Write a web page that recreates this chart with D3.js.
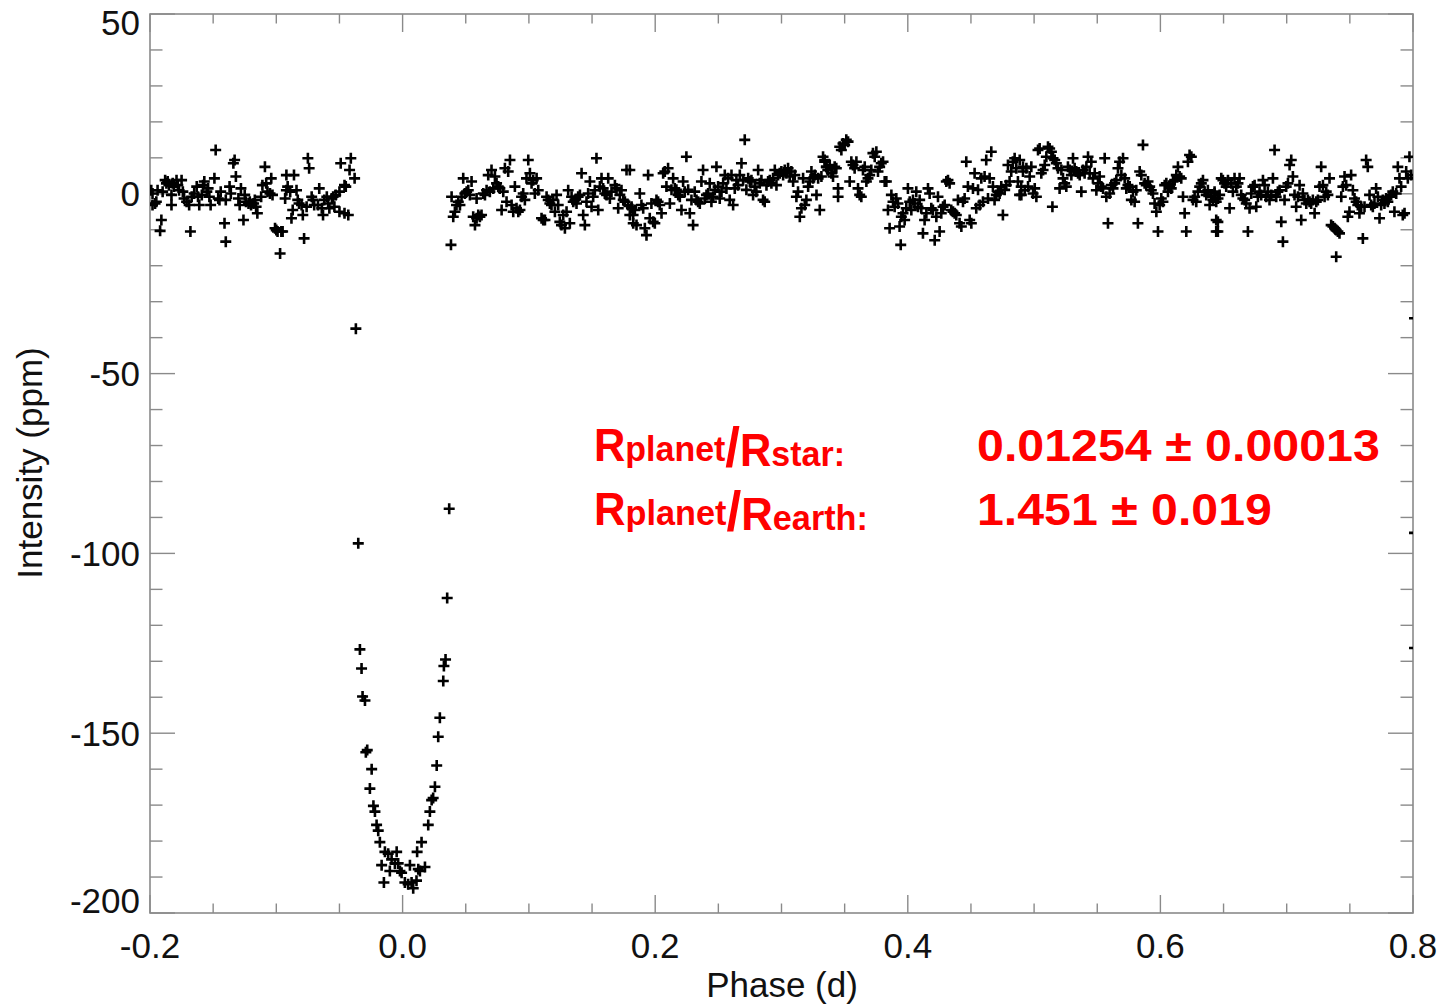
<!DOCTYPE html>
<html>
<head>
<meta charset="utf-8">
<script src="https://cdn.jsdelivr.net/npm/d3@7"></script>
<style>
  body { margin: 0; background: #fff; }
  svg { display: block; }
</style>
</head>
<body>
<svg id="chart" width="1449" height="1006"></svg>
<script>
// out-of-transit points before ingress: [phase, intensity ppm]
const preTransit = [
  [-0.199,1.0],[-0.198,0.1],[-0.196,-2.7],[-0.198,-3.1],[-0.195,-2.2],[-0.191,-7.3],[-0.192,-10.3],[-0.194,1.0],
  [-0.190,0.6],[-0.188,3.8],[-0.187,2.9],[-0.186,3.4],[-0.185,2.4],[-0.183,-0.3],[-0.183,-3.1],[-0.182,2.9],
  [-0.181,2.0],[-0.179,3.8],[-0.178,2.4],[-0.177,1.0],[-0.175,3.8],[-0.174,0.6],[-0.173,-1.3],[-0.171,-2.2],
  [-0.169,-3.1],[-0.168,-10.5],[-0.167,-0.8],[-0.165,0.1],[-0.163,2.0],[-0.162,-0.8],[-0.161,-3.1],[-0.159,-0.3],
  [-0.158,2.4],[-0.157,3.4],[-0.155,0.6],[-0.154,1.5],[-0.153,-0.8],[-0.152,-3.1],[-0.149,4.3],[-0.148,12.2],
  [-0.146,-1.3],[-0.145,-1.7],[-0.144,0.6],[-0.141,-8.2],[-0.140,-13.3],[-0.140,-1.7],[-0.137,2.0],[-0.136,0.1],
  [-0.134,8.5],[-0.133,9.4],[-0.132,4.8],[-0.130,-1.3],[-0.129,-3.1],[-0.128,1.5],[-0.126,-7.3],[-0.125,-0.3],
  [-0.124,-2.2],[-0.122,-2.7],[-0.121,-2.2],[-0.120,-3.1],[-0.118,-2.7],[-0.117,-1.7],[-0.116,-3.6],[-0.115,-5.4],
  [-0.112,-0.8],[-0.111,2.4],[-0.109,7.5],[-0.108,2.9],[-0.107,0.6],[-0.105,0.1],[-0.104,4.3],[-0.103,-0.3],
  [-0.101,-9.6],[-0.100,-10.1],[-0.099,-10.5],[-0.097,-16.6],[-0.096,-10.5],[-0.095,-10.5],[-0.093,-1.3],[-0.092,5.2],
  [-0.092,1.0],[-0.091,2.0],[-0.089,0.6],[-0.088,-6.8],[-0.087,-4.5],[-0.086,5.2],[-0.084,1.0],[-0.083,-1.7],
  [-0.082,-2.7],[-0.080,-3.1],[-0.079,-5.9],[-0.078,-12.4],[-0.076,-3.6],[-0.075,9.9],[-0.074,7.1],[-0.072,-0.8],
  [-0.071,-1.7],[-0.070,-3.1],[-0.067,-3.1],[-0.066,1.5],[-0.064,-4.0],[-0.063,-5.9],[-0.062,-1.7],[-0.060,-0.8],
  [-0.059,-2.7],[-0.058,-4.0],[-0.056,-1.3],[-0.055,-0.8],[-0.054,-3.6],[-0.053,-0.3],[-0.050,0.6],[-0.050,-5.0],
  [-0.049,8.5],[-0.046,2.4],[-0.045,2.0],[-0.046,-5.4],[-0.043,-5.9],[-0.042,6.6],[-0.041,9.9],[-0.038,4.3]
];

// the transit dip
const transit = [
  [-0.0370,-37.5],[-0.0351,-97.2],[-0.0338,-126.7],[-0.0325,-132.0],[-0.0317,-139.8],[-0.0298,-140.9],
  [-0.0291,-155.3],[-0.0280,-154.7],[-0.0259,-165.4],[-0.0245,-160.0],[-0.0231,-170.2],[-0.0219,-171.8],
  [-0.0206,-175.5],[-0.0193,-177.1],[-0.0180,-180.3],[-0.0166,-186.7],[-0.0148,-191.5],[-0.0140,-183.0],
  [-0.0114,-183.5],[-0.0101,-188.3],[-0.0087,-185.1],[-0.0061,-186.2],[-0.0047,-183.0],[-0.0035,-186.2],
  [-0.0021,-188.3],[-0.0008,-188.8],[0.0018,-191.5],[0.0044,-192.0],[0.0058,-186.7],[0.0071,-191.5],
  [0.0084,-193.1],[0.0110,-191.0],[0.0115,-183.0],[0.0124,-187.8],[0.0137,-188.3],[0.0150,-180.3],
  [0.0177,-187.2],[0.0203,-175.5],[0.0216,-171.8],[0.0230,-168.6],[0.0242,-168.0],[0.0256,-164.9],
  [0.0270,-159.0],[0.0282,-151.0],[0.0295,-145.7],[0.0322,-135.5],[0.0327,-131.3],[0.0340,-129.5],
  [0.0353,-112.4],[0.0369,-87.6]
];

// out-of-transit points after egress, phase 0.03 - 0.33
const postTransitA = [
  [0.0383,-14.2],[0.0388,-0.8],[0.0401,-6.4],[0.0414,-5.0],[0.0427,-3.1],[0.0441,-2.2],[0.0454,-3.1],[0.0467,-0.8],
  [0.0480,4.3],[0.0493,0.1],[0.0507,0.6],[0.0520,1.0],[0.0533,-0.3],[0.0546,3.4],[0.0559,-6.4],[0.0573,-8.7],
  [0.0586,-6.8],[0.0586,-1.3],[0.0599,-5.9],[0.0612,-6.4],[0.0625,-5.9],[0.0639,0.1],[0.0652,-0.3],[0.0665,1.0],
  [0.0678,5.2],[0.0691,0.6],[0.0704,6.6],[0.0718,1.5],[0.0731,4.8],[0.0744,2.9],[0.0757,2.0],[0.0770,1.5],
  [0.0784,-4.5],[0.0797,0.6],[0.0810,7.1],[0.0823,-2.2],[0.0836,6.2],[0.0850,9.4],[0.0863,-3.1],[0.0876,-5.0],
  [0.0889,2.0],[0.0902,-4.0],[0.0916,-5.0],[0.0929,-4.5],[0.0942,-0.8],[0.0955,0.1],[0.0968,-1.7],[0.0981,4.3],
  [0.0995,9.4],[0.1008,5.7],[0.1021,2.9],[0.1034,3.8],[0.1047,0.1],[0.1061,4.3],[0.1074,1.0],[0.1100,-6.8],
  [0.1113,-7.3],[0.1127,-7.3],[0.1140,-0.8],[0.1153,-1.7],[0.1166,-2.7],[0.1179,-3.1],[0.1193,-1.7],[0.1206,-5.0],
  [0.1219,-0.3],[0.1232,-3.1],[0.1245,-7.8],[0.1258,-8.7],[0.1272,-5.9],[0.1285,-9.6],[0.1298,-5.0],[0.1311,1.0],
  [0.1324,-8.2],[0.1338,-0.8],[0.1351,-2.2],[0.1364,-1.7],[0.1377,-2.7],[0.1390,-0.8],[0.1404,-0.3],[0.1417,5.7],
  [0.1430,-5.9],[0.1443,-8.7],[0.1456,-2.2],[0.1469,0.1],[0.1483,3.4],[0.1496,-3.6],[0.1509,-0.8],[0.1522,1.0],
  [0.1535,9.9],[0.1549,-4.5],[0.1562,2.0],[0.1575,4.3],[0.1588,1.5],[0.1601,0.1],[0.1615,-0.3],[0.1628,4.3],
  [0.1641,-1.3],[0.1654,0.6],[0.1681,2.4],[0.1694,1.5],[0.1707,-4.0],[0.1720,-0.3],[0.1733,1.0],[0.1747,-1.7],
  [0.1760,-2.2],[0.1773,6.6],[0.1786,-3.1],[0.1799,-5.9],[0.1813,-3.6],[0.1826,-8.2],
  [0.1799,6.6],[0.1812,-4.0],[0.1825,-5.9],[0.1839,-4.5],[0.1852,-8.7],[0.1878,0.1],[0.1891,-3.1],[0.1905,-4.0],
  [0.1918,-9.6],[0.1931,-11.5],[0.1944,5.2],[0.1957,-6.8],[0.1970,-2.7],[0.1984,-7.8],[0.1997,-8.2],[0.2010,-1.7],
  [0.2023,-2.2],[0.2036,-3.1],[0.2050,-5.4],[0.2063,5.7],[0.2076,6.2],[0.2089,2.0],[0.2102,7.1],[0.2116,-2.7],
  [0.2129,1.1],[0.2142,4.3],[0.2155,1.5],[0.2168,1.1],[0.2182,-0.3],[0.2195,-0.8],[0.2208,-4.5],[0.2221,3.4],
  [0.2234,0.6],[0.2247,10.3],[0.2261,1.1],[0.2274,-5.4],[0.2287,-1.7],[0.2300,-8.7],[0.2313,0.6],[0.2327,-1.7],
  [0.2340,-2.2],[0.2353,-2.7],[0.2366,3.4],[0.2379,6.6],[0.2393,-1.3],[0.2406,-0.3],[0.2419,0.1],[0.2432,2.9],
  [0.2445,-2.2],[0.2459,-0.8],[0.2472,1.1],[0.2485,7.5],[0.2498,2.0],[0.2511,-1.3],[0.2525,0.6],[0.2538,2.9],
  [0.2551,5.2],[0.2564,1.5],[0.2577,4.3],[0.2590,-1.7],[0.2604,5.2],[0.2617,-3.1],[0.2630,1.5],[0.2643,3.8],
  [0.2656,2.4],[0.2670,5.2],[0.2683,8.5],[0.2696,3.8],[0.2709,15.0],[0.2722,1.1],[0.2736,4.3],[0.2749,3.4],
  [0.2762,3.8],[0.2775,-0.3],[0.2788,2.0],[0.2801,0.6],[0.2815,6.6],[0.2828,2.9],[0.2841,3.8],[0.2854,-1.7],
  [0.2867,-2.2],[0.2881,2.4],[0.2894,3.4],[0.2907,3.8],[0.2920,2.9],[0.2933,4.3],[0.2947,6.6],[0.2960,2.4],
  [0.2973,5.2],[0.2986,5.7],[0.2999,6.2],[0.3013,5.2],[0.3026,6.6],[0.3039,5.7],[0.3052,7.1],[0.3065,4.8],
  [0.3078,6.2],[0.3092,3.4],[0.3105,5.2],[0.3118,-0.8],[0.3131,0.6],[0.3145,-6.4],[0.3158,-4.0],[0.3171,4.3],
  [0.3184,-3.1],[0.3197,-1.7],[0.3211,2.0],[0.3224,3.4],[0.3237,6.2],[0.3250,4.3],[0.3263,5.2],[0.3277,-0.3],
  [0.3290,4.3],[0.3303,-4.5],[0.3316,4.8],[0.3329,10.3],[0.3342,8.9],[0.3356,7.5],[0.3369,6.6]
];

// phase 0.33 - 0.65
const postTransitB = [
  [0.3342,9.4],[0.3355,7.5],[0.3368,6.6],[0.3382,8.0],[0.3395,5.7],[0.3408,4.8],[0.3421,7.5],[0.3434,7.1],
  [0.3448,1.5],[0.3448,-0.8],[0.3461,13.1],[0.3474,12.2],[0.3487,14.0],[0.3500,13.6],[0.3513,15.0],[0.3527,14.5],
  [0.3540,3.4],[0.3553,8.9],[0.3566,8.0],[0.3579,7.1],[0.3593,8.9],[0.3606,1.5],[0.3619,-0.3],[0.3632,-0.8],
  [0.3645,6.6],[0.3659,7.5],[0.3672,3.4],[0.3685,4.3],[0.3698,5.2],[0.3711,6.6],[0.3724,11.3],[0.3738,10.3],
  [0.3751,11.7],[0.3764,6.2],[0.3777,7.5],[0.3790,8.5],[0.3804,8.9],[0.3817,3.4],[0.3830,3.4],[0.3843,-4.5],
  [0.3856,-9.6],[0.3870,-0.3],[0.3883,-2.2],[0.3896,-3.6],[0.3909,-1.3],[0.3922,-2.7],[0.3935,-9.1],[0.3944,-14.2],
  [0.3949,-6.4],[0.3962,-5.4],[0.3975,-7.3],[0.3988,-4.0],[0.4001,1.5],[0.4015,-2.2],[0.4028,-4.5],[0.4041,-1.7],
  [0.4054,-2.7],[0.4067,0.6],[0.4081,-3.6],[0.4094,-1.7],[0.4107,-4.0],[0.4120,-11.0],[0.4133,-7.3],[0.4147,-5.4],
  [0.4160,1.5],[0.4173,0.1],[0.4186,-4.0],[0.4199,-4.5],[0.4213,-12.9],[0.4226,-6.4],[0.4239,-0.8],[0.4252,-10.5],
  [0.4265,-5.4],[0.4279,-3.6],[0.4292,-3.1],[0.4305,3.4],[0.4318,3.8],[0.4331,2.9],[0.4344,-4.5],[0.4358,-5.0],
  [0.4371,-5.4],[0.4384,-5.9],[0.4397,-1.7],[0.4410,-8.2],[0.4424,-9.1],[0.4437,-2.2],[0.4450,-1.3],[0.4463,8.9],
  [0.4476,2.0],[0.4490,-7.3],[0.4503,-8.2],[0.4516,1.5],[0.4529,5.7],[0.4542,-4.0],[0.4556,1.1],[0.4569,-3.1],
  [0.4582,4.3],[0.4595,-2.2],[0.4608,4.8],[0.4621,9.4],[0.4635,-1.3],[0.4648,4.3],[0.4661,11.7],[0.4674,2.0],
  [0.4687,-1.7],[0.4701,-0.3],[0.4714,0.6],[0.4727,0.1],[0.4740,2.0],[0.4753,-5.9],[0.4767,1.1],[0.4780,2.4],
  [0.4793,8.0],[0.4806,3.4],[0.4819,6.2],[0.4832,8.9],[0.4846,9.9],[0.4859,7.1],[0.4872,3.4],[0.4885,-0.3],
  [0.4898,2.0],[0.4912,6.2],
  [0.4886,9.4],[0.4899,-0.3],[0.4912,7.5],[0.4926,1.0],[0.4939,7.1],[0.4952,2.0],[0.4965,4.8],[0.4978,7.5],
  [0.4992,0.1],[0.5005,1.5],[0.5018,-0.8],[0.5031,12.2],[0.5044,12.6],[0.5057,5.7],[0.5071,6.6],[0.5084,8.0],
  [0.5097,10.3],[0.5110,13.1],[0.5123,12.6],[0.5137,11.7],[0.5145,-3.6],[0.5150,9.9],[0.5163,9.4],[0.5176,8.5],
  [0.5189,7.1],[0.5202,1.5],[0.5216,6.6],[0.5229,4.3],[0.5242,2.9],[0.5255,2.0],[0.5268,7.5],[0.5282,6.6],
  [0.5295,5.2],[0.5308,9.9],[0.5321,7.1],[0.5334,6.2],[0.5348,5.7],[0.5361,5.2],[0.5374,0.6],[0.5387,6.6],
  [0.5400,5.7],[0.5414,7.5],[0.5427,10.3],[0.5440,5.7],[0.5453,8.9],[0.5466,4.3],[0.5480,5.7],[0.5493,1.0],
  [0.5506,2.9],[0.5519,4.8],[0.5532,2.0],[0.5546,1.5],[0.5559,9.9],[0.5572,-0.8],[0.5585,-8.2],[0.5598,0.1],
  [0.5611,2.4],[0.5625,1.5],[0.5638,2.9],[0.5651,3.8],[0.5664,7.1],[0.5677,8.9],[0.5691,5.2],[0.5704,9.9],
  [0.5717,4.3],[0.5730,1.5],[0.5743,2.4],[0.5757,2.0],[0.5770,-1.7],[0.5783,0.6],[0.5796,-2.2],[0.5809,1.0],
  [0.5822,-8.2],[0.5836,6.2],[0.5849,5.2],[0.5862,13.6],[0.5875,2.9],[0.5888,2.4],[0.5902,3.4],[0.5915,2.0],
  [0.5928,1.0],[0.5941,0.1],[0.5954,-2.7],[0.5968,-5.0],[0.5981,-10.5],[0.5994,-3.1],[0.6007,-1.3],[0.6020,-2.2],
  [0.6034,2.4],[0.6047,2.9],[0.6060,0.6],[0.6073,2.0],[0.6086,1.5],[0.6100,3.4],[0.6113,3.8],[0.6126,5.2],
  [0.6139,7.5],[0.6152,4.8],[0.6165,4.3],[0.6179,-0.8],[0.6192,-5.4],[0.6205,-10.5],[0.6218,8.9],[0.6231,10.8],
  [0.6245,10.3],[0.6258,-1.7],[0.6271,-0.8],[0.6284,-2.2],[0.6297,0.6],[0.6311,2.0],[0.6324,2.9],[0.6337,3.8],
  [0.6350,0.6],[0.6363,-0.3],[0.6376,1.0],[0.6390,-3.1],[0.6403,-0.8],[0.6416,-1.7],[0.6429,0.6],[0.6442,-7.3],
  [0.6442,-10.5],[0.6456,-1.3]
];

// phase 0.64 - 0.80, plus the start of the next ingress clipped at the right edge
const postTransitC = [
  [0.6429,0.1],[0.6442,-2.2],[0.6455,-7.8],[0.6455,-10.5],[0.6469,-0.3],[0.6482,4.3],[0.6495,3.8],[0.6508,2.9],
  [0.6521,2.0],[0.6535,3.8],[0.6548,-4.0],[0.6561,2.9],[0.6574,0.6],[0.6587,4.3],[0.6601,2.0],[0.6614,2.9],
  [0.6627,4.3],[0.6640,-0.3],[0.6653,-1.3],[0.6667,-1.7],[0.6680,-2.7],[0.6693,-10.5],[0.6706,-4.0],[0.6719,0.1],
  [0.6733,2.0],[0.6746,2.4],[0.6759,-3.6],[0.6772,-0.8],[0.6785,0.6],[0.6798,-0.3],[0.6812,3.8],[0.6825,2.4],
  [0.6838,-0.8],[0.6851,0.6],[0.6864,-1.7],[0.6878,-0.3],[0.6891,4.3],[0.6904,12.2],[0.6917,-0.8],[0.6930,0.6],
  [0.6944,1.0],[0.6957,-7.8],[0.6970,-13.3],[0.6983,-1.7],[0.6996,2.0],[0.7010,2.9],[0.7023,8.0],[0.7036,9.4],
  [0.7049,4.8],[0.7062,-0.3],[0.7075,-3.6],[0.7089,-0.8],[0.7102,2.4],[0.7115,-7.3],[0.7128,0.1],[0.7141,-1.7],
  [0.7155,-2.7],[0.7168,-1.7],[0.7181,-2.2],[0.7194,-2.7],[0.7207,-1.7],[0.7221,-5.4],[0.7234,-2.2],[0.7247,-1.7],
  [0.7260,2.0],[0.7273,7.5],[0.7287,2.4],[0.7300,-0.8],[0.7313,0.6],[0.7326,-0.3],[0.7339,4.3],[0.7352,-8.7],
  [0.7366,-9.1],[0.7379,-9.6],[0.7392,-10.1],[0.7405,-10.5],[0.7418,-11.0],[0.7392,-17.5],[0.7432,-0.8],[0.7445,2.0],
  [0.7458,4.8],[0.7471,2.4],[0.7484,-6.4],[0.7497,-5.0],[0.7510,5.2],[0.7524,1.0],[0.7537,-1.3],[0.7550,-2.2],
  [0.7563,-3.1],[0.7576,-5.4],[0.7590,-3.6],[0.7603,-12.4],[0.7616,-3.6],[0.7629,9.4],[0.7642,7.5],[0.7656,-0.3],
  [0.7669,-3.1],[0.7682,-3.6],[0.7695,-2.7],[0.7708,1.5],[0.7722,-0.8],[0.7735,-6.8],[0.7748,-3.1],[0.7761,-1.7],
  [0.7774,-2.7],[0.7787,-1.3],[0.7801,-2.2],[0.7814,-0.8],[0.7827,-0.3],[0.7840,0.6],[0.7853,-5.0],[0.7867,0.1],
  [0.7880,7.5],[0.7893,4.3],[0.7906,2.0],[0.7919,-5.9],[0.7933,-5.4],[0.7946,6.2],[0.7959,4.3],[0.7972,10.3],
  [0.7985,5.2],
  [0.8012,-34.6],[0.8012,-94.3],[0.8012,-126.3]
];

const xMajor = [-0.2, 0.0, 0.2, 0.4, 0.6, 0.8];
const yMajor = [50, 0, -50, -100, -150, -200];

const fitLabels = ["Rplanet/Rstar:", "Rplanet/Rearth:"];
const fitValues = ["0.01254 \u00b1 0.00013", "1.451 \u00b1 0.019"];

const svg = d3.select("#chart");
const plotLeft = 150, plotRight = 1413, plotTop = 14, plotBottom = 913;

const x = d3.scaleLinear().domain([-0.2, 0.8]).range([plotLeft, plotRight]);
const y = d3.scaleLinear().domain([-200, 50]).range([plotBottom, plotTop]);

const axisColor = "#8a8a8a";
const font = "'Liberation Sans', Arial, sans-serif";

// minor + major ticks, IDL-style on all four sides
const xMinor = d3.range(-0.2, 0.8001, 0.05).map(v => +v.toFixed(2));
const yMinor = d3.range(-200, 50.01, 10);

const ticks = svg.append("g").attr("stroke", axisColor).attr("stroke-width", 1.4);
xMinor.forEach(v => {
  const major = xMajor.some(m => Math.abs(m - v) < 1e-6);
  const len = major ? 18 : 9.5;
  ticks.append("line").attr("x1", x(v)).attr("x2", x(v)).attr("y1", plotBottom).attr("y2", plotBottom - len);
  ticks.append("line").attr("x1", x(v)).attr("x2", x(v)).attr("y1", plotTop).attr("y2", plotTop + len);
});
yMinor.forEach(v => {
  const major = v % 50 === 0;
  const len = major ? 25 : 12.5;
  ticks.append("line").attr("y1", y(v)).attr("y2", y(v)).attr("x1", plotLeft).attr("x2", plotLeft + len);
  ticks.append("line").attr("y1", y(v)).attr("y2", y(v)).attr("x1", plotRight).attr("x2", plotRight - len);
});

svg.append("rect")
  .attr("x", plotLeft).attr("y", plotTop)
  .attr("width", plotRight - plotLeft).attr("height", plotBottom - plotTop)
  .attr("fill", "none").attr("stroke", axisColor).attr("stroke-width", 1.6);

// tick labels
svg.append("g").selectAll("text")
  .data(xMajor)
  .join("text")
  .attr("x", d => x(d))
  .attr("y", 958)
  .attr("text-anchor", "middle")
  .attr("font-family", font)
  .attr("font-size", 35)
  .attr("fill", "#111")
  .text(d => d.toFixed(1));

svg.append("g").selectAll("text")
  .data(yMajor)
  .join("text")
  .attr("x", 140)
  .attr("y", d => d === 50 ? 35 : d === -200 ? 913 : y(d) + 12.5)
  .attr("text-anchor", "end")
  .attr("font-family", font)
  .attr("font-size", 35)
  .attr("fill", "#111")
  .text(d => d);

// axis titles
svg.append("text")
  .attr("x", 782).attr("y", 997)
  .attr("text-anchor", "middle")
  .attr("font-family", font).attr("font-size", 35).attr("fill", "#111")
  .text("Phase (d)");

svg.append("text")
  .attr("transform", "translate(42,463) rotate(-90)")
  .attr("text-anchor", "middle")
  .attr("font-family", font).attr("font-size", 35).attr("fill", "#111")
  .text("Intensity (ppm)");

// data points as "+" markers
svg.append("clipPath").attr("id", "plotClip")
  .append("rect").attr("x", plotLeft).attr("y", plotTop)
  .attr("width", plotRight - plotLeft).attr("height", plotBottom - plotTop);

const allPoints = [...preTransit, ...transit, ...postTransitA, ...postTransitB, ...postTransitC];
svg.append("g")
  .attr("clip-path", "url(#plotClip)")
  .selectAll("path")
  .data(allPoints)
  .join("path")
  .attr("d", d => `M${x(d[0]) - 5.5},${y(d[1])}h11M${x(d[0])},${y(d[1]) - 5.5}v11`)
  .attr("stroke", "#000")
  .attr("stroke-width", 2.6)
  .attr("fill", "none");

// red fit annotation
const red = "#ff0000";
const labelWidths = [251, 274];
const baselines = [461, 525];

fitLabels.forEach((lab, i) => {
  const parts = lab.split("/");
  const g = svg.append("g");
  const t = g.append("text")
    .attr("font-family", font).attr("font-weight", "bold").attr("fill", red);
  parts.forEach((p, j) => {
    t.append("tspan").attr("font-size", 46).text(p[0]);
    t.append("tspan").attr("font-size", 36).text(p.slice(1));
    if (j === 0) t.append("tspan").attr("font-size", 56).attr("dy", 5).text("/");
    if (j === 0) t.append("tspan").attr("font-size", 46).attr("dy", -5).text("");
  });
  const w = t.node().getComputedTextLength();
  g.attr("transform", `translate(594,${baselines[i]}) scale(${labelWidths[i] / w},1)`);
});

const valueWidths = [403, 295];
fitValues.forEach((v, i) => {
  const g = svg.append("g");
  const t = g.append("text")
    .attr("font-family", font).attr("font-weight", "bold")
    .attr("font-size", 45).attr("fill", red)
    .text(v);
  const w = t.node().getComputedTextLength();
  g.attr("transform", `translate(977,${baselines[i]}) scale(${valueWidths[i] / w},1)`);
});
</script>
</body>
</html>
